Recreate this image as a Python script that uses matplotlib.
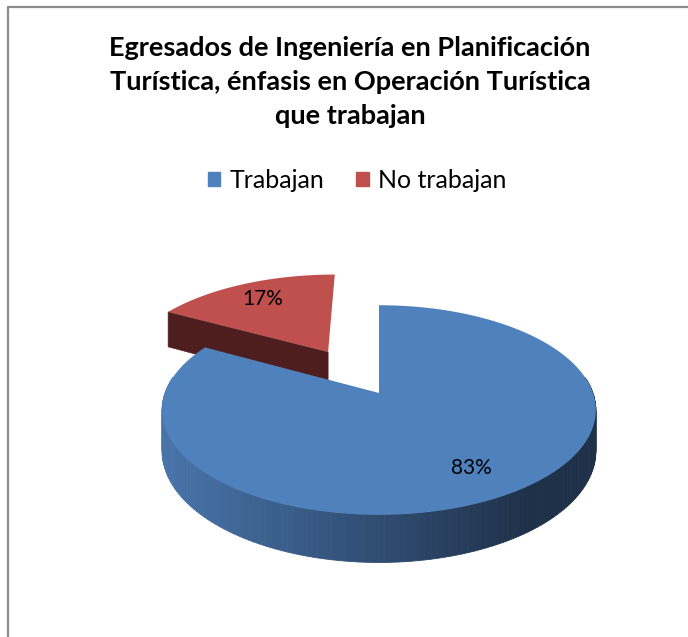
import numpy as np
import matplotlib
matplotlib.use("Agg")
import matplotlib.pyplot as plt
from matplotlib.colors import to_rgb
from matplotlib.patches import Patch

# ---- DATOS ----
categorias = ["Trabajan", "No trabajan"]
valores = [83, 17]
colores_top = ["#4F81BD", "#C0504D"]
titulo = ("Egresados de Ingeniería en Planificación\n"
          "Turística, énfasis en Operación Turística\n"
          "que trabajan")

# ---- ESTILO / GEOMETRIA (px) ----
W, H = 688, 637
CX, CY = 379, 393      # centro del pastel
RX, RY = 214, 102      # semiejes
P = 0.162              # perspectiva
DEPTH = 40             # grosor
EXPLODE = [0.0, 0.5]
FONT = "Lato"

def proyectar(u, v, z=0.0):
    k = 1.0 / (1.0 + P * v)
    return CX + RX * u * k, CY - RY * v * k + DEPTH * z * k

def mezcla(c1, c2, t):
    a, b = np.array(to_rgb(c1)), np.array(to_rgb(c2))
    t = min(max(t, 0.0), 1.0)
    return tuple(a + (b - a) * t)

fig = plt.figure(figsize=(W / 100, H / 100), dpi=100)
ax = fig.add_axes([0, 0, 1, 1])
ax.set_xlim(0, W)
ax.set_ylim(H, 0)
ax.axis("off")

# marco del grafico
ax.plot([8, 8, W + 5], [H + 5, 7, 7], color="#8c8c8c", lw=1.6, solid_capstyle="butt")

# angulos de cada porcion (inicio 90, sentido horario)
total = float(sum(valores))
angulos = []
ini = 90.0
for v in valores:
    fin = ini - 360.0 * v / total
    angulos.append((ini, fin))
    ini = fin

def cara_corte(ox, oy, ang, orden, col):
    u, v = ox + np.cos(ang), oy + np.sin(ang)
    t0 = proyectar(ox, oy)
    t1 = proyectar(u, v)
    t2 = proyectar(u, v, 1)
    t3 = proyectar(ox, oy, 1)
    ax.fill([t0[0], t1[0], t2[0], t3[0]], [t0[1], t1[1], t2[1], t3[1]],
            color=col, lw=0.5, ec=col, zorder=orden)

def dibujar_porcion(i, orden):
    a1, a2 = angulos[i]
    mid = np.radians((a1 + a2) / 2)
    ox, oy = EXPLODE[i] * np.cos(mid), EXPLODE[i] * np.sin(mid)
    th = np.radians(np.linspace(a1, a2, 200))
    us, vs = ox + np.cos(th), oy + np.sin(th)

    # pared exterior (solo la parte que mira al frente)
    franjas = []
    for j in range(len(th) - 1):
        if np.sin((th[j] + th[j + 1]) / 2) > 0.15:
            continue
        xa, ya = proyectar(us[j], vs[j])
        xb, yb = proyectar(us[j + 1], vs[j + 1])
        xc, yc = proyectar(us[j + 1], vs[j + 1], 1)
        xd, yd = proyectar(us[j], vs[j], 1)
        franjas.append(((vs[j] + vs[j + 1]) / 2, [xa, xb, xc, xd], [ya, yb, yc, yd]))
    franjas.sort(key=lambda f: -f[0])
    for _, xs, ys in franjas:
        if i == 0:
            t = (np.mean(xs) - 165) / (530 - 165)
            col = mezcla("#4874aa", "#1f3049", t)
        else:
            col = "#4d1e1d"
        ax.fill(xs, ys, color=col, lw=0.6, ec=col, zorder=orden)

    # caras de corte visibles
    r1, r2 = np.radians(a1), np.radians(a2)
    if np.cos(r1) < -0.05:
        cara_corte(ox, oy, r1, orden + 0.5, "#4d1e1d" if i == 1 else "#2c4870")
    if -np.cos(r2) < -0.05:
        cara_corte(ox, oy, r2, orden + 0.5, "#4d1e1d" if i == 1 else "#2c4870")

    # cara superior
    px, py = proyectar(np.r_[ox, us], np.r_[oy, vs])
    ax.fill(px, py, color=colores_top[i], lw=0, zorder=orden + 1)

    # etiqueta
    r = 0.76
    lx, ly = proyectar(ox + r * np.cos(mid), oy + r * np.sin(mid))
    ax.text(lx, ly, f"{valores[i]:.0f}%", ha="center", va="center",
            fontsize=15, family=FONT, color="black", zorder=orden + 2)

dibujar_porcion(1, 1)
dibujar_porcion(0, 5)

ax.text(350, 82, titulo, ha="center", va="center", fontsize=19.5,
        fontweight="bold", family=FONT, linespacing=1.52)

handles = [Patch(color=c) for c in colores_top]
ax.legend(handles, categorias, loc="center", bbox_to_anchor=(357 / W, 1 - 180 / H),
          ncol=2, frameon=False, handlelength=0.5, handleheight=0.5,
          handletextpad=0.35, columnspacing=1.3,
          prop={"family": FONT, "size": 18})

fig.savefig("out.png", dpi=100)
